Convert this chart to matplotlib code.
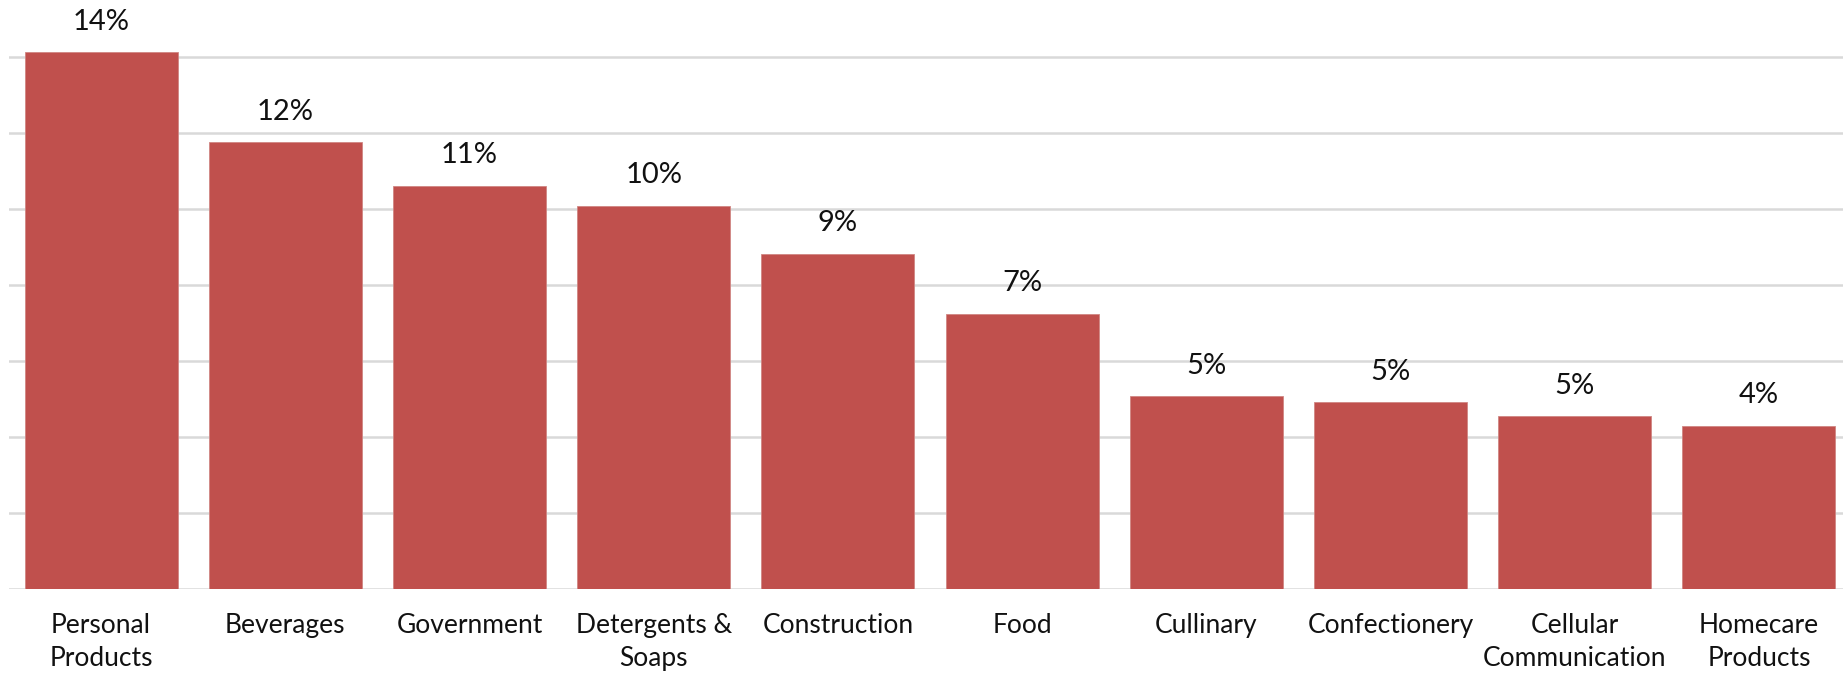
import matplotlib.pyplot as plt

# Share by sector (%)
categories = ["Personal\nProducts", "Beverages", "Government", "Detergents &\nSoaps",
              "Construction", "Food", "Cullinary", "Confectionery",
              "Cellular\nCommunication", "Homecare\nProducts"]
values = [14.13, 11.76, 10.61, 10.09, 8.82, 7.24, 5.08, 4.92, 4.55, 4.30]
labels = ["14%", "12%", "11%", "10%", "9%", "7%", "5%", "5%", "5%", "4%"]
grid_ticks = [0, 2, 4, 6, 8, 10, 12, 14]

plt.rcParams["font.family"] = ["Lato", "DejaVu Sans"]

W, H = 1843, 675
fig = plt.figure(figsize=(W / 100, H / 100), dpi=100)
ax = fig.add_axes([9 / W, (H - 589) / H, (W - 9) / W, 589 / H])

x = range(len(categories))
ax.bar(x, values, width=0.83, color="#C0504D", edgecolor="#D08683", linewidth=0.6, zorder=2)

for xi, v, lab in zip(x, values, labels):
    ax.text(xi, v + 0.8, lab, ha="center", va="center", fontsize=21, color="#111111")

ax.set_ylim(0, 15.5)
ax.set_xlim(-0.5, 9.5 - 8 / 184)
ax.set_yticks(grid_ticks)
ax.yaxis.grid(True, color="#D9D9D9", linewidth=1.8, zorder=0)
ax.set_axisbelow(True)
ax.tick_params(axis="y", left=False, labelleft=False)
ax.tick_params(axis="x", bottom=False, pad=14)
ax.set_xticks(list(x))
ax.set_xticklabels(categories, fontsize=19, color="#111111", linespacing=1.4, va="top")
for s in ax.spines.values():
    s.set_visible(False)

fig.savefig("out.png", dpi=100)
